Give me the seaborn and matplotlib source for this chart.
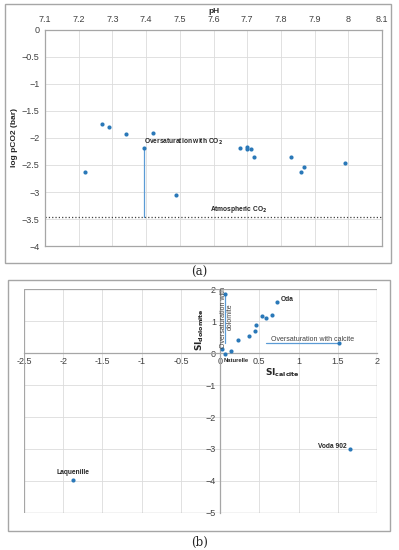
import matplotlib.pyplot as plt
import matplotlib.patches as mpatches
import seaborn as sns
import pandas as pd

sns.set_theme(style="whitegrid")
plt.rcParams["font.family"] = ["Liberation Sans", "DejaVu Sans"]

# (a) pH vs log pCO2
ph = [7.22, 7.27, 7.29, 7.34, 7.42, 7.395, 7.49, 7.68, 7.70, 7.70, 7.71, 7.72,
      7.83, 7.86, 7.87, 7.99]
log_pco2 = [-2.63, -1.75, -1.79, -1.93, -1.91, -2.18, -3.06, -2.18, -2.16, -2.20,
            -2.21, -2.35, -2.36, -2.63, -2.54, -2.46]
atm_co2 = -3.46
ph_ticks = [7.1, 7.2, 7.3, 7.4, 7.5, 7.6, 7.7, 7.8, 7.9, 8.0, 8.1]
ph_labels = ["7.1", "7.2", "7.3", "7.4", "7.5", "7.6", "7.7", "7.8", "7.9", "8", "8.1"]
pco2_ticks = [0, -0.5, -1, -1.5, -2, -2.5, -3, -3.5, -4]
pco2_labels = ["0", "\u22120.5", "\u22121", "\u22121.5", "\u22122", "\u22122.5",
               "\u22123", "\u22123.5", "\u22124"]

# (b) SI calcite vs SI dolomite
si_calcite = [0.03, 0.06, 0.14, 0.23, 0.37, 0.44, 0.46, 0.54, 0.58, 0.66, 0.72,
              0.06, 1.51, -1.87, 1.65]
si_dolomite = [0.13, -0.04, 0.07, 0.41, 0.52, 0.68, 0.88, 1.15, 1.10, 1.20, 1.58,
               1.84, 0.30, -3.97, -3.00]
si_x_ticks = [-2.5, -2, -1.5, -1, -0.5, 0, 0.5, 1, 1.5, 2]
si_x_labels = ["-2.5", "-2", "-1.5", "-1", "-0.5", "0", "0.5", "1", "1.5", "2"]
si_y_ticks = [-5, -4, -3, -2, -1, 0, 1, 2]
si_y_labels = ["\u22125", "\u22124", "\u22123", "\u22122", "\u22121", "0", "1", "2"]

dot = "#2a78b8"
grid_c = "#dcdcdc"
frame_c = "#a6a6a6"
tick_fs = 6.5

df_a = pd.DataFrame({"pH": ph, "pco2": log_pco2})
df_b = pd.DataFrame({"calcite": si_calcite, "dolomite": si_dolomite})

fig = plt.figure(figsize=(3.99, 5.50), dpi=100)
fig.patch.set_facecolor("white")

# outer frames
fig.patches.append(mpatches.Rectangle((0.0125, 0.522), 0.967, 0.471, transform=fig.transFigure,
                                      fill=False, edgecolor=frame_c, linewidth=1.0))
fig.patches.append(mpatches.Rectangle((0.02, 0.0345), 0.957, 0.456, transform=fig.transFigure,
                                      fill=False, edgecolor=frame_c, linewidth=1.0))
fig.text(0.5, 0.504, "(a)", ha="center", va="center", fontsize=8.5, family="DejaVu Serif")
fig.text(0.5, 0.0145, "(b)", ha="center", va="center", fontsize=8.5, family="DejaVu Serif")

# ---- (a)
ax1 = fig.add_axes([0.1128, 0.5527, 0.8446, 0.3928])
ax1.axhline(atm_co2, color="#404040", linestyle=":", linewidth=0.9, zorder=1)
ax1.plot([7.395, 7.395], [atm_co2, -2.18], color="#5b9bd5", linewidth=0.9, zorder=1)
sns.scatterplot(data=df_a, x="pH", y="pco2", ax=ax1, color=dot, s=9, linewidth=0, zorder=3)
ax1.set_xlim(7.1, 8.1)
ax1.set_ylim(-4, 0)
ax1.xaxis.tick_top()
ax1.xaxis.set_label_position("top")
ax1.set_xticks(ph_ticks)
ax1.set_xticklabels(ph_labels, fontsize=tick_fs, color="#404040")
ax1.set_yticks(pco2_ticks)
ax1.set_yticklabels(pco2_labels, fontsize=tick_fs, color="#404040")
ax1.set_xlabel("pH", fontsize=6, fontweight="bold", labelpad=2)
ax1.set_ylabel("log pCO2 (bar)", fontsize=6, fontweight="bold", labelpad=3)
ax1.tick_params(length=0, pad=4)
ax1.grid(color=grid_c, linewidth=0.6)
for s in ax1.spines.values():
    s.set_color(frame_c)
    s.set_linewidth(0.9)
ax1.text(7.394, -2.07, r"Oversaturation with CO$_\mathbf{2}$", fontsize=4.8,
         fontweight="bold", ha="left", va="center")
ax1.text(7.59, -3.33, r"Atmospheric CO$_\mathbf{2}$", fontsize=4.8,
         fontweight="bold", ha="left", va="center")

# ---- (b)
ax2 = fig.add_axes([0.060, 0.0673, 0.885, 0.4072])
ax2.plot([0.06, 0.06], [0.30, 1.84], color="#5b9bd5", linewidth=0.9, zorder=1)
ax2.plot([0.58, 1.51], [0.30, 0.30], color="#5b9bd5", linewidth=0.9, zorder=1)
sns.scatterplot(data=df_b, x="calcite", y="dolomite", ax=ax2, color=dot, s=9,
                linewidth=0, zorder=3)
# axes through the origin (set before tick styling, since it resets ticks)
ax2.spines["left"].set_position(("data", 0))
ax2.spines["bottom"].set_position(("data", 0))
ax2.spines["top"].set_visible(False)
ax2.spines["right"].set_visible(False)
for side in ["left", "bottom"]:
    ax2.spines[side].set_color(frame_c)
    ax2.spines[side].set_linewidth(0.9)
ax2.set_xlim(-2.5, 2)
ax2.set_ylim(-5, 2)
ax2.set_xticks(si_x_ticks)
ax2.set_xticklabels(si_x_labels, fontsize=tick_fs, color="#404040")
ax2.set_yticks(si_y_ticks)
ax2.set_yticklabels(si_y_labels, fontsize=tick_fs, color="#404040")
ax2.set_xlabel("")
ax2.set_ylabel("")
ax2.add_patch(mpatches.Rectangle((0, 0), 1, 1, transform=ax2.transAxes, fill=False,
                                 edgecolor=frame_c, linewidth=0.9, zorder=2))
ax2.tick_params(length=0, pad=3, labelsize=tick_fs, labelcolor="#404040")
ax2.grid(color=grid_c, linewidth=0.6)

ax2.text(0.77, 1.66, "Oda", fontsize=4.8, fontweight="bold", ha="left", va="center")
ax2.text(0.05, -0.24, "Naturelle", fontsize=4.2, fontweight="bold", ha="left", va="center")
ax2.text(-1.87, -3.72, "Laquenille", fontsize=4.8, fontweight="bold", ha="center", va="center")
ax2.text(1.61, -2.92, "Voda 902", fontsize=4.8, fontweight="bold", ha="right", va="center")
ax2.text(0.65, 0.42, "Oversaturation with calcite", fontsize=5, ha="left", va="center",
         color="#404040")
ax2.text(0.085, 1.12, "Oversaturation with\ndolomite", fontsize=5, rotation=90,
         ha="center", va="center", multialignment="center", color="#404040",
         linespacing=1.0)
ax2.text(0.80, -0.62, r"$\mathbf{SI}_{\mathbf{calcite}}$", fontsize=6.5, ha="center",
         va="center")
ax2.text(-0.26, 0.72, r"$\mathbf{SI}_{\mathbf{dolomite}}$", fontsize=6.5, ha="center",
         va="center", rotation=90)

fig.savefig("out.png", dpi=100, facecolor="white")
